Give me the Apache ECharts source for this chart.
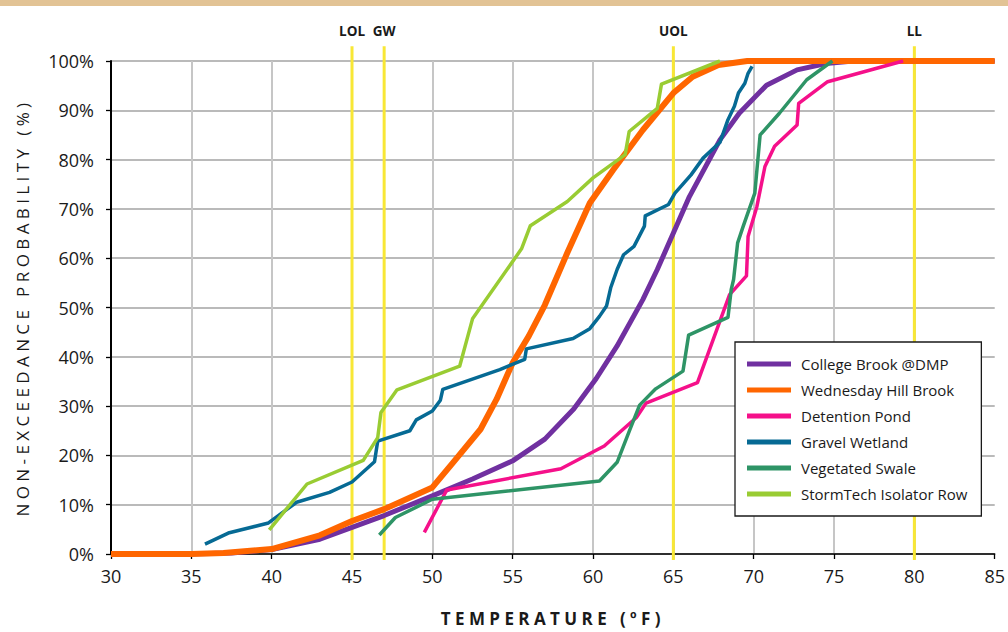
<!DOCTYPE html>
<html>
<head>
<meta charset="utf-8">
<script src="https://cdn.jsdelivr.net/npm/echarts@6/dist/echarts.min.js"></script>
<style>
  html, body { margin: 0; padding: 0; background: #ffffff; }
  #chart { width: 1008px; height: 632px; }
</style>
</head>
<body>
<div id="chart"></div>
<script>
// ---- Data ----
const seriesNames = ['College Brook @DMP', 'Wednesday Hill Brook', 'Detention Pond', 'Gravel Wetland', 'Vegetated Swale', 'StormTech Isolator Row'];
const seriesColors = ['#7030A0', '#FF6600', '#F5108A', '#066A94', '#2E9466', '#99CC33'];

const collegeBrook = [[30,0],[35,0],[37.5,0.2],[40,0.9],[43,3.0],[45,5.4],[47,7.8],[50,11.8],[52.5,15.2],[55,18.9],[57,23.3],[58.8,29.4],[60.2,35.6],[61.5,42.2],[63.1,51.6],[64.0,57.7],[66.0,72.5],[67.9,84.0],[69.1,89.4],[70.8,95.1],[72.7,98.2],[74.5,99.5],[76.2,100],[85,100]];
const wednesdayHill = [[30,0],[35,0],[37,0.2],[40,1.0],[43,3.8],[45,6.7],[47,9.1],[50,13.5],[51.3,18.6],[53,25.3],[54,31.4],[55,38.8],[56,44.2],[57,50.5],[58.4,61.1],[59.8,71.2],[61.25,77.9],[63.1,86.0],[65,93.5],[66.2,96.8],[67.8,99.2],[69.6,100],[85,100]];
const detentionPond = [[49.5,4.4],[50.9,13.0],[58.0,17.3],[60.7,21.9],[62.7,27.7],[63.3,30.6],[66.5,34.75],[68.5,52.6],[69.55,56.4],[69.65,64.4],[70.2,70.5],[70.7,78.6],[71.3,82.7],[72.7,87.0],[72.8,91.4],[74.6,95.8],[79.3,100]];
const gravelWetland = [[35.85,2.0],[37.3,4.25],[39.8,6.3],[41.55,10.5],[43.6,12.5],[45.0,14.6],[46.4,18.7],[46.6,22.9],[48.6,25.0],[49.0,27.2],[50.0,29.0],[50.5,31.2],[50.65,33.4],[54.2,37.4],[55.75,39.5],[55.85,41.6],[58.76,43.7],[59.8,45.7],[60.4,48.2],[60.84,50.3],[61.1,54.0],[61.5,57.7],[61.9,60.7],[62.55,62.4],[63.2,66.5],[63.25,68.6],[64.7,70.9],[65.1,73.2],[66.1,76.9],[66.85,80.3],[67.9,83.5],[68.4,88.1],[68.8,90.8],[69.05,93.5],[69.45,95.5],[69.65,97.5],[69.9,98.9]];
const vegetatedSwale = [[46.7,3.85],[47.7,7.4],[50.0,11.1],[60.4,14.8],[61.5,18.6],[62.3,25.3],[62.9,30.2],[63.9,33.5],[65.6,37.1],[65.95,44.4],[68.4,48.0],[68.6,53.6],[68.75,55.7],[69.0,63.1],[69.35,66.5],[70.07,73.2],[70.4,85.0],[71.6,89.4],[73.3,96.2],[74.9,100]];
const stormTech = [[39.85,4.9],[42.2,14.2],[45.7,19.0],[46.6,23.6],[46.8,28.7],[47.8,33.3],[51.7,38.1],[52.5,47.7],[55.55,61.9],[56.1,66.6],[58.4,71.5],[60.0,76.3],[62.0,81.0],[62.25,85.7],[64.0,90.4],[64.26,95.3],[67.9,100]];
const seriesData = [collegeBrook, wednesdayHill, detentionPond, gravelWetland, vegetatedSwale, stormTech];
const seriesWidths = [5, 6, 3.5, 3.5, 3.5, 3.5];

const thresholdNames = ['LOL', 'GW', 'UOL', 'LL'];
const thresholdTemps = [45, 47, 65, 80];
const thresholdTop = 103;     // % (line runs slightly above the plot)
const thresholdBottom = -1.2; // % (and slightly below the axis)

const xTickValues = [30, 35, 40, 45, 50, 55, 60, 65, 70, 75, 80, 85];
const yTickValues = [0, 10, 20, 30, 40, 50, 60, 70, 80, 90, 100];

const xAxisTitle = 'TEMPERATURE (\u00BAF)';
const yAxisTitle = 'NON-EXCEEDANCE PROBABILITY (%)';

// ---- Chart ----
const chart = echarts.init(document.getElementById('chart'), null, { renderer: 'svg' });

const thresholdSeries = {
  name: 'Thresholds',
  type: 'custom',
  coordinateSystem: 'cartesian2d',
  clip: false,
  silent: true,
  z: 1,
  animation: false,
  encode: { x: 0, y: 1 },
  data: thresholdTemps.map((t, i) => ({ name: thresholdNames[i], value: [t, thresholdTop] })),
  renderItem: function (params, api) {
    const t = api.value(0);
    const top = api.coord([t, thresholdTop]);
    const bot = api.coord([t, thresholdBottom]);
    return {
      type: 'group',
      children: [
        {
          type: 'line',
          shape: { x1: top[0], y1: top[1], x2: bot[0], y2: bot[1] },
          style: { stroke: '#F8E735', lineWidth: 3 }
        },
        {
          type: 'text',
          x: top[0],
          y: top[1] - 8,
          style: {
            text: thresholdNames[params.dataIndex],
            align: 'center',
            verticalAlign: 'bottom',
            fill: '#1a1a1a',
            font: 'bold 13.5px "Open Sans"'
          }
        }
      ]
    };
  }
};

const lineSeries = seriesNames.map((name, i) => ({
  name: name,
  type: 'line',
  data: seriesData[i],
  showSymbol: false,
  symbol: 'none',
  smooth: false,
  lineStyle: { color: seriesColors[i], width: seriesWidths[i], join: 'round', cap: 'butt' },
  itemStyle: { color: seriesColors[i] },
  z: 3 + i,
  animation: false
}));

chart.setOption({
  animation: false,
  backgroundColor: '#ffffff',
  graphic: [{
    type: 'rect',
    left: 0, top: 0,
    shape: { width: 1008, height: 6 },
    style: { fill: '#E2C395' },
    silent: true
  }],
  grid: { left: 111, right: 13, top: 61, bottom: 77, containLabel: false },
  legend: {
    data: seriesNames,
    orient: 'vertical',
    left: 735,
    top: 342,
    padding: [14, 14, 14, 12],
    itemGap: 10,
    itemWidth: 44,
    itemHeight: 5,
    icon: 'rect',
    backgroundColor: '#ffffff',
    borderColor: '#1a1a1a',
    borderWidth: 1.3,
    borderRadius: 0,
    selectedMode: false,
    textStyle: {
      fontFamily: 'Open Sans',
      fontSize: 15,
      lineHeight: 16,
      color: '#1a1a1a',
      padding: [0, 0, 0, 5]
    }
  },
  xAxis: {
    type: 'value',
    min: 30,
    max: 85,
    interval: 5,
    name: xAxisTitle,
    nameLocation: 'middle',
    nameGap: 56,
    nameTextStyle: { fontFamily: 'Open Sans', fontWeight: 'bold', fontSize: 17, color: '#1a1a1a' },
    axisLine: { show: true, onZero: false, lineStyle: { color: '#000', width: 1.5 } },
    axisTick: { show: true, length: 5, lineStyle: { color: '#000', width: 1.3 } },
    axisLabel: {
      margin: 13,
      fontFamily: 'Open Sans',
      fontSize: 18,
      color: '#1a1a1a',
      formatter: v => (xTickValues.indexOf(v) >= 0 ? String(v) : '')
    },
    splitLine: { show: true, showMaxLine: false, lineStyle: { color: '#C6C6C6', width: 2 } }
  },
  yAxis: {
    type: 'value',
    min: 0,
    max: 100,
    interval: 10,
    name: yAxisTitle,
    nameLocation: 'middle',
    nameGap: 80,
    nameTextStyle: { fontFamily: 'Open Sans', fontSize: 17, color: '#1a1a1a' },
    axisLine: { show: true, lineStyle: { color: '#000', width: 2 } },
    axisTick: { show: true, length: 5, lineStyle: { color: '#000', width: 1.3 } },
    axisLabel: {
      margin: 17,
      fontFamily: 'Open Sans',
      fontSize: 18,
      color: '#1a1a1a',
      formatter: v => (yTickValues.indexOf(v) >= 0 ? v + '%' : '')
    },
    splitLine: { show: true, lineStyle: { color: '#A3A3A3', width: 1.6 } }
  },
  series: [thresholdSeries].concat(lineSeries)
});

function applySpacing() {
  document.querySelectorAll('#chart svg text').forEach(t => {
    const s = t.textContent || '';
    if (s.indexOf('NON-EXCEEDANCE') === 0) t.style.letterSpacing = '4.4px';
    if (s.indexOf('TEMPERATURE') === 0) t.style.letterSpacing = '4.4px';
  });
}
chart.on('finished', applySpacing);
applySpacing();
</script>
</body>
</html>
